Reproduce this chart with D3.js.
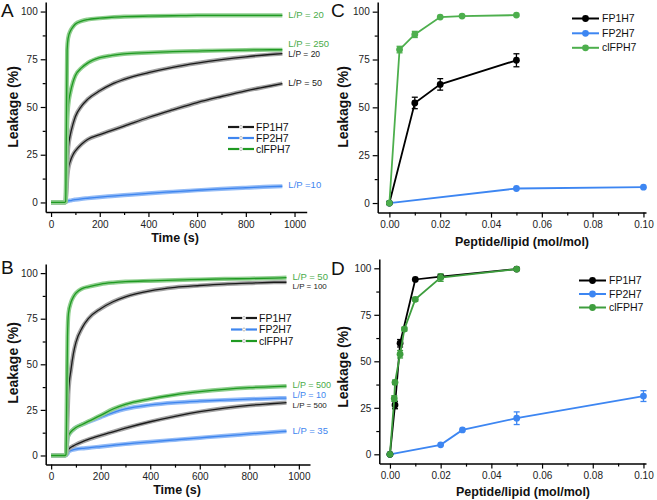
<!DOCTYPE html>
<html><head><meta charset="utf-8">
<script src="https://cdn.jsdelivr.net/npm/d3@7"></script>
<style>
body{margin:0;background:#fff;}
svg{display:block;font-family:"Liberation Sans",Arial,sans-serif;}
</style></head>
<body><svg id="c" width="657" height="500"></svg>
<script>
// ---------- DATA ----------
const times = [0, 55, 60, 63, 66, 70, 80, 90, 100, 125, 150, 200, 250, 300, 400, 500, 600, 700, 800, 900, 950];

// Panel A kinetics
const A_FP2H7_LP10  = [0, 0, 0.3, 0.4, 0.6, 0.8, 1.0, 1.3, 1.5, 1.9, 2.2, 2.8, 3.3, 3.8, 4.8, 5.6, 6.4, 7.1, 7.7, 8.3, 8.5];
const A_FP1H7_LP50  = [0, 0, 0.3, 5, 12, 17, 22, 25, 27, 30.5, 33, 35.5, 37.8, 40, 44.5, 48.5, 52.3, 55.5, 58.5, 61, 62.3];
const A_FP1H7_LP20  = [0, 0, 0.5, 10, 20, 28, 36, 41, 45, 50.5, 54, 58.5, 62, 64.5, 68, 70.8, 73, 74.8, 76.3, 77.5, 78];
const A_clFPH7_LP250 = [0, 0, 0.5, 20, 40, 50, 58, 63, 66.5, 70.5, 73, 75.8, 77, 77.8, 78.5, 79, 79.3, 79.6, 79.8, 80, 80];
const A_clFPH7_LP20 = [0, 0, 0.5, 40, 80, 86, 90, 92, 93.5, 95, 95.8, 96.5, 97, 97.3, 97.6, 97.8, 98, 98, 98, 98, 98];

// Panel B kinetics
const B_FP2H7_LP35  = [0, 0, 0.2, 0.6, 1, 2, 2.8, 3.2, 3.5, 3.9, 4.2, 4.9, 5.6, 6.3, 7.5, 8.6, 9.7, 10.8, 11.8, 12.8, 13.3];
const B_FP1H7_LP500 = [0, 0, 0.3, 1.5, 2.5, 3.3, 4.5, 5.3, 6, 7.5, 8.8, 11, 13, 15, 18.5, 21.5, 24, 26, 27.5, 28.5, 29];
const B_FP2H7_LP10  = [0, 0, 0.5, 5, 9, 11, 13, 14.3, 15.3, 17, 18.3, 21, 23.5, 25.5, 27.7, 29, 29.8, 30.4, 30.9, 31.3, 31.5];
const B_clFPH7_LP500 = [0, 0, 0.5, 5, 9, 11, 13, 14.3, 15.3, 17, 18.7, 22, 25.5, 28, 31, 33.3, 35, 36.3, 37.2, 37.8, 38];
const B_FP1H7_LP100 = [0, 0, 0.5, 8, 20, 35, 47, 56, 62, 70, 75, 80.5, 84.3, 87, 90.3, 92.2, 93.2, 94, 94.5, 95, 95];
const B_clFPH7_LP50 = [0, 0, 0.5, 30, 65, 78, 84, 87, 89, 91.5, 92.5, 94, 94.8, 95.3, 95.8, 96.2, 96.5, 96.8, 97, 97.3, 97.5];

const peptides = ["FP1H7", "FP2H7", "clFPH7"];

// Panel C dose response
const C_FP1H7_x = [0, 0.01, 0.02, 0.05];
const C_FP1H7_y = [0, 52.3, 62, 74.6];
const C_FP1H7_e = [0, 3, 3, 3.4];
const C_FP2H7_x = [0, 0.05, 0.10];
const C_FP2H7_y = [0, 7.6, 8.3];
const C_FP2H7_e = [0, 0.5, 0.5];
const C_clFPH7_x = [0, 0.004, 0.01, 0.02, 0.0286, 0.05];
const C_clFPH7_y = [0, 80.2, 88.1, 97.2, 97.7, 98.2];
const C_clFPH7_e = [0, 1.7, 1.6, 0.8, 0.6, 0.6];

// Panel D dose response
const D_FP1H7_x = [0, 0.002, 0.004, 0.01, 0.02, 0.05];
const D_FP1H7_y = [0, 26.5, 59.7, 94, 95.5, 99.6];
const D_FP1H7_e = [0, 2, 2, 0.8, 1, 0.5];
const D_FP2H7_x = [0, 0.02, 0.0286, 0.05, 0.10];
const D_FP2H7_y = [0, 5.1, 13.1, 19.4, 31.3];
const D_FP2H7_e = [0, 0.8, 0.8, 3.4, 2.9];
const D_clFPH7_x = [0, 0.0017, 0.002, 0.004, 0.0057, 0.01, 0.02, 0.05];
const D_clFPH7_y = [0, 30, 38.7, 53.8, 67.3, 83.3, 95, 99.6];
const D_clFPH7_e = [0, 1.5, 1.2, 2, 1, 1, 2, 0.5];

const yTicks = [0, 25, 50, 75, 100];
const yMinor = [12.5, 37.5, 62.5, 87.5];
const tTicks = [0, 200, 400, 600, 800, 1000];
const tMinor = [100, 300, 500, 700, 900];
const pTicks = [0, 0.02, 0.04, 0.06, 0.08, 0.10];
const pMinor = [0.01, 0.03, 0.05, 0.07, 0.09];

// ---------- STYLE ----------
const col = {
  blackLine: "#1a1a1a", blackBand: "#a3a3a3",
  blueLine: "#3f86ef", blueBand: "#93bbf6",
  greenLine: "#1f9a22", greenBand: "#8fce8e",
  greenTxt: "#4aab4a", blueTxt: "#3f86ef", blackTxt: "#222",
  cBlack: "#000", cBlue: "#3d86f2", cGreen: "#4daf4d", dGreen: "#3e9e3e"
};

const svg = d3.select("#c");

function axes(g, x, y, xt, xm, yt, ym, xfmt) {
  const xa = g.append("g").attr("transform", `translate(0,${y.range()[0]})`)
    .call(d3.axisBottom(x).tickValues(xt).tickSize(5).tickSizeOuter(0).tickFormat(xfmt));
  g.append("g").attr("transform", `translate(0,${y.range()[0]})`)
    .call(d3.axisBottom(x).tickValues(xm).tickSize(3).tickSizeOuter(0).tickFormat(""))
    .select(".domain").remove();
  const ya = g.append("g").attr("transform", `translate(${x.range()[0]},0)`)
    .call(d3.axisLeft(y).tickValues(yt).tickSize(5).tickSizeOuter(0));
  g.append("g").attr("transform", `translate(${x.range()[0]},0)`)
    .call(d3.axisLeft(y).tickValues(ym).tickSize(3).tickSizeOuter(0).tickFormat(""))
    .select(".domain").remove();
  g.selectAll(".domain").attr("stroke", "#000").attr("stroke-width", 1.5);
  g.selectAll(".tick line").attr("stroke", "#000").attr("stroke-width", 1.2);
  g.selectAll(".tick text").attr("font-family", "Liberation Sans, Arial, sans-serif")
    .attr("font-size", 10).attr("fill", "#222");
  xa.selectAll(".tick text").attr("dy", "0.75em").attr("y", 8);
  ya.selectAll(".tick text").attr("x", -8);
}

function titles(g, cx, by, xlabel, lx, ly, letter, letX, letY) {
  g.append("text").attr("x", cx).attr("y", by).attr("text-anchor", "middle")
    .attr("font-weight", "bold").attr("font-size", 12.5).attr("fill", "#111").text(xlabel);
  g.append("text").attr("transform", `translate(${lx},${ly}) rotate(-90)`).attr("text-anchor", "middle")
    .attr("dy", "0.35em").attr("font-weight", "bold").attr("font-size", 14).attr("fill", "#111").text("Leakage (%)");
  g.append("text").attr("x", letX).attr("y", letY).attr("font-size", 19).attr("fill", "#111").text(letter);
}

function kinetics(g, x, y, series, labels) {
  const line = d3.line().x((d, i) => x(times[i])).y(d => y(d)).curve(d3.curveMonotoneX);
  series.forEach(s => {
    g.append("path").datum(s.v).attr("d", line).attr("fill", "none")
      .attr("stroke", s.band).attr("stroke-width", 4.2).attr("stroke-linejoin", "round");
    g.append("path").datum(s.v).attr("d", line).attr("fill", "none")
      .attr("stroke", s.line).attr("stroke-width", 1.3).attr("stroke-linejoin", "round");
  });
  labels.forEach(l => {
    g.append("text").attr("x", x(950) + 6).attr("y", l.py).attr("dy", "0.35em")
      .attr("font-size", l.fs).attr("fill", l.c).text(l.t);
  });
}

function kinLegend(g, lx, rows) {
  const cs = [col.blackLine, col.blueLine, col.greenLine];
  peptides.forEach((p, i) => {
    const yy = rows[i];
    g.append("line").attr("x1", lx).attr("x2", lx + 11).attr("y1", yy).attr("y2", yy)
      .attr("stroke", cs[i]).attr("stroke-width", 2.2);
    g.append("line").attr("x1", lx + 15).attr("x2", lx + 26).attr("y1", yy).attr("y2", yy)
      .attr("stroke", cs[i]).attr("stroke-width", 2.2);
    g.append("circle").attr("cx", lx + 13).attr("cy", yy).attr("r", 1.5)
      .attr("fill", "#fff").attr("stroke", "#aaa").attr("stroke-width", 0.8);
    g.append("text").attr("x", lx + 28).attr("y", yy).attr("dy", "0.35em")
      .attr("font-size", 10.5).attr("fill", "#111").text(p);
  });
}

function dose(g, x, y, series) {
  const line = d3.line().x(d => x(d[0])).y(d => y(d[1]));
  series.forEach(s => {
    const pts = s.x.map((v, i) => [v, s.y[i], s.e[i]]);
    g.append("path").datum(pts).attr("d", line).attr("fill", "none")
      .attr("stroke", s.c).attr("stroke-width", 1.8);
    pts.forEach(p => {
      if (p[2] > 0.9) {
        const x0 = x(p[0]);
        g.append("line").attr("x1", x0).attr("x2", x0).attr("y1", y(p[1] - p[2])).attr("y2", y(p[1] + p[2]))
          .attr("stroke", s.c).attr("stroke-width", 1.3);
        [p[1] - p[2], p[1] + p[2]].forEach(v => g.append("line")
          .attr("x1", x0 - 3).attr("x2", x0 + 3).attr("y1", y(v)).attr("y2", y(v))
          .attr("stroke", s.c).attr("stroke-width", 1.3));
      }
    });
    g.selectAll(null).data(pts).enter().append("circle")
      .attr("cx", d => x(d[0])).attr("cy", d => y(d[1])).attr("r", 3.4).attr("fill", s.c);
  });
}

function doseLegend(g, lx, rows, cs) {
  peptides.forEach((p, i) => {
    const yy = rows[i];
    g.append("line").attr("x1", lx).attr("x2", lx + 27).attr("y1", yy).attr("y2", yy)
      .attr("stroke", cs[i]).attr("stroke-width", 2);
    g.append("circle").attr("cx", lx + 13.5).attr("cy", yy).attr("r", 3.4).attr("fill", cs[i]);
    g.append("text").attr("x", lx + 30).attr("y", yy).attr("dy", "0.35em")
      .attr("font-size", 10.5).attr("fill", "#111").text(p);
  });
}

const fmtT = d3.format("d");
const fmtP = d3.format(".2f");

// ---------- Panel A ----------
{
  const g = svg.append("g");
  const x = d3.scaleLinear().domain([-22, 1050]).range([45.7, 306.7]);
  const y = d3.scaleLinear().domain([-5, 105]).range([212, 2]);
  kinetics(g, x, y, [
    {v: A_FP2H7_LP10, band: col.blueBand, line: col.blueLine},
    {v: A_FP1H7_LP50, band: col.blackBand, line: col.blackLine},
    {v: A_FP1H7_LP20, band: col.blackBand, line: col.blackLine},
    {v: A_clFPH7_LP250, band: col.greenBand, line: col.greenLine},
    {v: A_clFPH7_LP20, band: col.greenBand, line: col.greenLine}
  ], [
    {t: "L/P = 20", py: 15, c: col.greenTxt, fs: 9.5},
    {t: "L/P = 250", py: 43.5, c: col.greenTxt, fs: 9.5},
    {t: "L/P = 20", py: 54, c: col.blackTxt, fs: 8.5},
    {t: "L/P = 50", py: 82.7, c: col.blackTxt, fs: 9},
    {t: "L/P =10", py: 185, c: col.blueTxt, fs: 9.5}
  ]);
  axes(g, x, y, tTicks, tMinor, yTicks, yMinor, fmtT);
  kinLegend(g, 228, [127, 138, 149]);
  titles(g, 175, 242, "Time (s)", 13, 107, "A", 1, 17);
}

// ---------- Panel B ----------
{
  const g = svg.append("g");
  const x = d3.scaleLinear().domain([-22, 1045]).range([45.7, 310]);
  const y = d3.scaleLinear().domain([-5, 105]).range([464.6, 264]);
  kinetics(g, x, y, [
    {v: B_FP2H7_LP35, band: col.blueBand, line: col.blueLine},
    {v: B_FP1H7_LP500, band: col.blackBand, line: col.blackLine},
    {v: B_FP2H7_LP10, band: col.blueBand, line: col.blueLine},
    {v: B_clFPH7_LP500, band: col.greenBand, line: col.greenLine},
    {v: B_FP1H7_LP100, band: col.blackBand, line: col.blackLine},
    {v: B_clFPH7_LP50, band: col.greenBand, line: col.greenLine}
  ], [
    {t: "L/P = 50", py: 276.5, c: col.greenTxt, fs: 9.5},
    {t: "L/P = 100", py: 286.5, c: col.blackTxt, fs: 8},
    {t: "L/P = 500", py: 384.5, c: col.greenTxt, fs: 9},
    {t: "L/P = 10", py: 395.2, c: col.blueTxt, fs: 9},
    {t: "L/P = 500", py: 405.5, c: col.blackTxt, fs: 8},
    {t: "L/P = 35", py: 431, c: col.blueTxt, fs: 9.5}
  ]);
  axes(g, x, y, tTicks, tMinor, yTicks, yMinor, fmtT);
  kinLegend(g, 231, [318, 329.5, 341]);
  titles(g, 177, 494, "Time (s)", 13, 363, "B", 1, 274);
}

// ---------- Panel C ----------
{
  const g = svg.append("g");
  const x = d3.scaleLinear().domain([-0.0046, 0.101]).range([377.7, 646]);
  const y = d3.scaleLinear().domain([-5, 105]).range([212.6, 2.1]);
  dose(g, x, y, [
    {x: C_FP2H7_x, y: C_FP2H7_y, e: C_FP2H7_e, c: col.cBlue},
    {x: C_FP1H7_x, y: C_FP1H7_y, e: C_FP1H7_e, c: col.cBlack},
    {x: C_clFPH7_x, y: C_clFPH7_y, e: C_clFPH7_e, c: col.cGreen}
  ]);
  axes(g, x, y, pTicks, pMinor, yTicks, yMinor, fmtP);
  doseLegend(g, 572, [18.5, 33.3, 47.8], [col.cBlack, col.cBlue, col.cGreen]);
  titles(g, 522, 246, "Peptide/lipid (mol/mol)", 343, 107, "C", 331, 17);
}

// ---------- Panel D ----------
{
  const g = svg.append("g");
  const x = d3.scaleLinear().domain([-0.0042, 0.101]).range([379.3, 646]);
  const y = d3.scaleLinear().domain([-5, 105]).range([463.6, 259]);
  dose(g, x, y, [
    {x: D_FP2H7_x, y: D_FP2H7_y, e: D_FP2H7_e, c: col.cBlue},
    {x: D_FP1H7_x, y: D_FP1H7_y, e: D_FP1H7_e, c: col.cBlack},
    {x: D_clFPH7_x, y: D_clFPH7_y, e: D_clFPH7_e, c: col.dGreen}
  ]);
  axes(g, x, y, pTicks, pMinor, yTicks, yMinor, fmtP);
  doseLegend(g, 579, [280.5, 294, 307.5], [col.cBlack, col.cBlue, col.dGreen]);
  titles(g, 523, 496, "Peptide/lipid (mol/mol)", 343, 367, "D", 331, 275);
}
</script></body></html>
